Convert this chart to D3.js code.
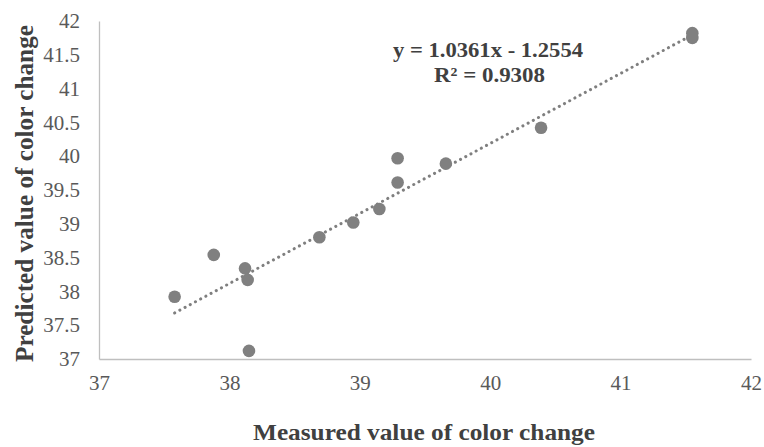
<!DOCTYPE html>
<html>
<head>
<meta charset="utf-8">
<script src="https://cdn.jsdelivr.net/npm/d3@7"></script>
<style>
  body { margin: 0; background: #fff; }
  svg text { font-family: "Liberation Serif", "DejaVu Serif", serif; }
</style>
</head>
<body>
<div id="chart"></div>
<script>
// measured vs predicted values
var measured  = [37.58, 37.88, 38.12, 38.14, 38.15, 38.69, 38.95, 39.15, 39.29, 39.29, 39.66, 40.39, 41.55, 41.55];
var predicted = [37.92, 38.54, 38.34, 38.17, 37.12, 38.80, 39.02, 39.22, 39.61, 39.97, 39.89, 40.42, 41.82, 41.75];
var xTicks = [37, 38, 39, 40, 41, 42];
var yTicks = [37, 37.5, 38, 38.5, 39, 39.5, 40, 40.5, 41, 41.5, 42];
var slope = 1.0361, intercept = -1.2554, r2 = 0.9308;

function draw() {
    var width = 764, height = 447;
    var margin = {top: 21, right: 13, bottom: 88, left: 99};
    var serif = "'Liberation Serif', 'DejaVu Serif', serif";

    var svg = d3.select("#chart").append("svg")
        .attr("width", width)
        .attr("height", height);

    var x = d3.scaleLinear()
        .domain([37, 42])
        .range([margin.left, width - margin.right]);

    var y = d3.scaleLinear()
        .domain([37, 42])
        .range([height - margin.bottom, margin.top]);

    // x axis
    var xAxis = svg.append("g")
        .attr("transform", `translate(0,${height - margin.bottom})`)
        .attr("font-family", serif)
        .call(d3.axisBottom(x).tickValues(xTicks).tickSize(0).tickPadding(16).tickFormat(d3.format("d")));
    xAxis.select(".domain").attr("stroke", "#bfbfbf").attr("stroke-width", 1.3);
    xAxis.selectAll("text").attr("font-size", 21).attr("fill", "#595959");

    // y axis
    var yAxis = svg.append("g")
        .attr("transform", `translate(${margin.left},0)`)
        .attr("font-family", serif)
        .call(d3.axisLeft(y).tickValues(yTicks).tickSize(0).tickPadding(19).tickFormat(d => d));
    yAxis.select(".domain").attr("stroke", "#bfbfbf").attr("stroke-width", 1.3);
    yAxis.selectAll("text").attr("font-size", 21).attr("fill", "#595959");

    // trend line over data range
    var xr = d3.extent(measured);
    svg.append("line")
        .attr("x1", x(xr[0])).attr("y1", y(slope * xr[0] + intercept))
        .attr("x2", x(xr[1])).attr("y2", y(slope * xr[1] + intercept))
        .attr("stroke", "#7f7f7f")
        .attr("stroke-width", 3)
        .attr("stroke-linecap", "round")
        .attr("stroke-dasharray", "0.1 5.8");

    // points
    svg.append("g")
        .selectAll("circle")
        .data(measured)
        .enter()
        .append("circle")
        .attr("cx", d => x(d))
        .attr("cy", (d, i) => y(predicted[i]))
        .attr("r", 6.3)
        .attr("fill", "#808080");

    // equation
    svg.append("text")
        .attr("x", 488).attr("y", 57)
        .attr("text-anchor", "middle")
        .attr("font-size", 22).attr("font-weight", "bold").attr("fill", "#404040")
        .attr("textLength", 190).attr("lengthAdjust", "spacingAndGlyphs")
        .text(`y = ${slope}x - ${Math.abs(intercept)}`);
    svg.append("text")
        .attr("x", 489.5).attr("y", 82)
        .attr("text-anchor", "middle")
        .attr("font-size", 22).attr("font-weight", "bold").attr("fill", "#404040")
        .attr("textLength", 111).attr("lengthAdjust", "spacingAndGlyphs")
        .text(`R² = ${r2}`);

    // axis titles
    svg.append("text")
        .attr("x", 424).attr("y", 440)
        .attr("text-anchor", "middle")
        .attr("font-size", 24).attr("font-weight", "bold").attr("fill", "#404040")
        .attr("textLength", 342).attr("lengthAdjust", "spacingAndGlyphs")
        .text("Measured value of color change");

    svg.append("text")
        .attr("transform", "translate(33,193.5) rotate(-90)")
        .attr("text-anchor", "middle")
        .attr("font-size", 25).attr("font-weight", "bold").attr("fill", "#404040")
        .attr("textLength", 337).attr("lengthAdjust", "spacingAndGlyphs")
        .text("Predicted value of color change");
}

window.onload = draw;
</script>
</body>
</html>
